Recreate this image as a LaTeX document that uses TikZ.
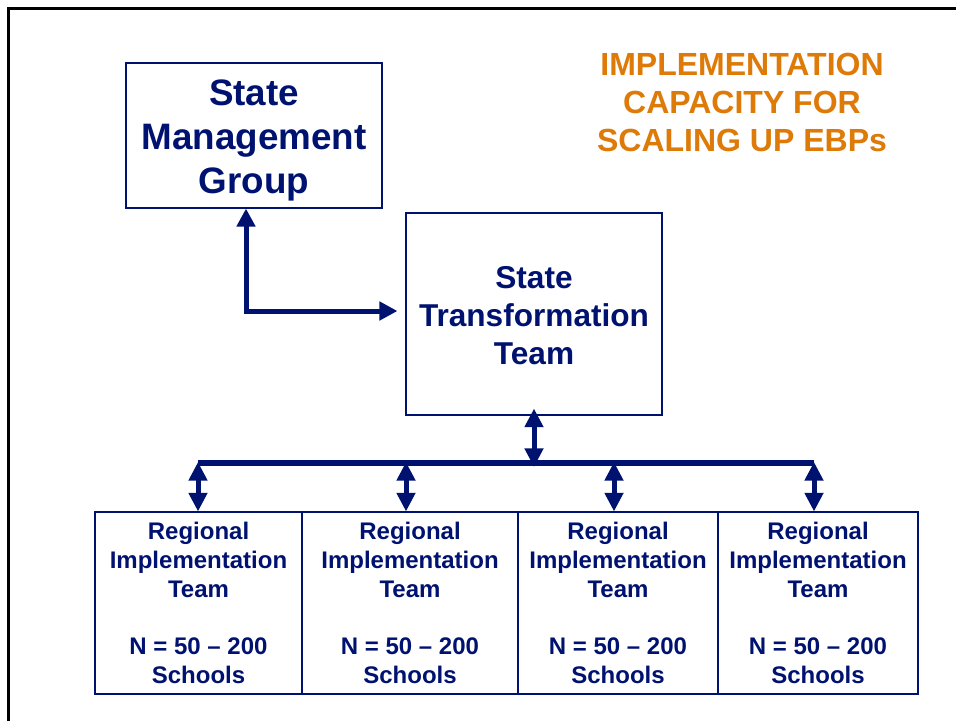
\documentclass[tikz,border=0pt]{standalone}
\usepackage{fontspec}
\setmainfont{Liberation Sans}
\usetikzlibrary{arrows.meta,calc}
\definecolor{navy}{RGB}{0,18,112}
\definecolor{orangeT}{RGB}{222,122,8}
\begin{document}
\begin{tikzpicture}[x=0.75pt,y=-0.75pt,
  box/.style={draw=navy, line width=0.8pt, inner sep=0pt, align=center, text=navy},
  smgfont/.style={font={\fontsize{27.6}{33}\selectfont\bfseries}},
  sttfont/.style={font={\fontsize{23.7}{28.5}\selectfont\bfseries}},
  ritfont/.style={font={\fontsize{18}{21.5}\selectfont\bfseries}},
  conn/.style={draw=navy, line width=3.75pt, {Triangle[length=13.5pt,width=13.5pt]}-{Triangle[length=13.5pt,width=13.5pt]}},
  dconn/.style={draw=navy, line width=3.75pt, {Triangle[length=14pt,width=13.5pt]}-{Triangle[length=14pt,width=13.5pt]}},
  bus/.style={draw=navy, line width=4.5pt}]
\useasboundingbox (0,0) rectangle (956,721);
\fill[white] (0,0) rectangle (956,721);
\draw[line width=1.9pt] (8.5,721) -- (8.5,8.5) -- (956,8.5);

% title
\node[align=center, text=orangeT, font={\fontsize{24}{28.5}\selectfont\bfseries}] (title) at (742,102)
  {IMPLEMENTATION\\CAPACITY FOR\\SCALING UP EBPs};

% boxes
\node[box, smgfont, minimum width=192pt, minimum height=108.75pt] (smg) at (254,135.5)
  {\rule{0pt}{27pt}State\\Management\\Group};
\node[box, sttfont, minimum width=192pt, minimum height=151.5pt] (stt) at (534,314)
  {\rule{0pt}{19pt}State\\Transformation\\Team};

\node[box, ritfont, minimum width=155.25pt, minimum height=136.5pt] (r1) at (198.5,603)
  {Regional\\Implementation\\Team\\[21.5pt]N = 50 – 200\\Schools};
\node[box, ritfont, minimum width=162pt, minimum height=136.5pt] (r2) at (410,603)
  {Regional\\Implementation\\Team\\[21.5pt]N = 50 – 200\\Schools};
\node[box, ritfont, minimum width=150pt, minimum height=136.5pt] (r3) at (618,603)
  {Regional\\Implementation\\Team\\[21.5pt]N = 50 – 200\\Schools};
\node[box, ritfont, minimum width=150pt, minimum height=136.5pt] (r4) at (818,603)
  {Regional\\Implementation\\Team\\[21.5pt]N = 50 – 200\\Schools};

% bus coordinates
\coordinate (b1) at (198,463);
\coordinate (b2) at (406,463);
\coordinate (b3) at (614,463);
\coordinate (b4) at (814,463);

% elbow connector
\draw[conn] ($(smg.south)+(-8,0)$) |- ($(stt.west)+(-8,-3)$);

% bus
\draw[bus] (b1) -- (b4);

% STT to bus
\draw[dconn] ($(stt.south)+(0,-7)$) -- ($(stt.south |- b1)+(0,4)$);

% bus to regional boxes
\draw[dconn] ($(b1)+(0,-1)$) -- (b1 |- r1.north);
\draw[dconn] ($(b2)+(0,-1)$) -- (b2 |- r2.north);
\draw[dconn] ($(b3)+(0,-1)$) -- (b3 |- r3.north);
\draw[dconn] ($(b4)+(0,-1)$) -- (b4 |- r4.north);
\end{tikzpicture}
\end{document}
